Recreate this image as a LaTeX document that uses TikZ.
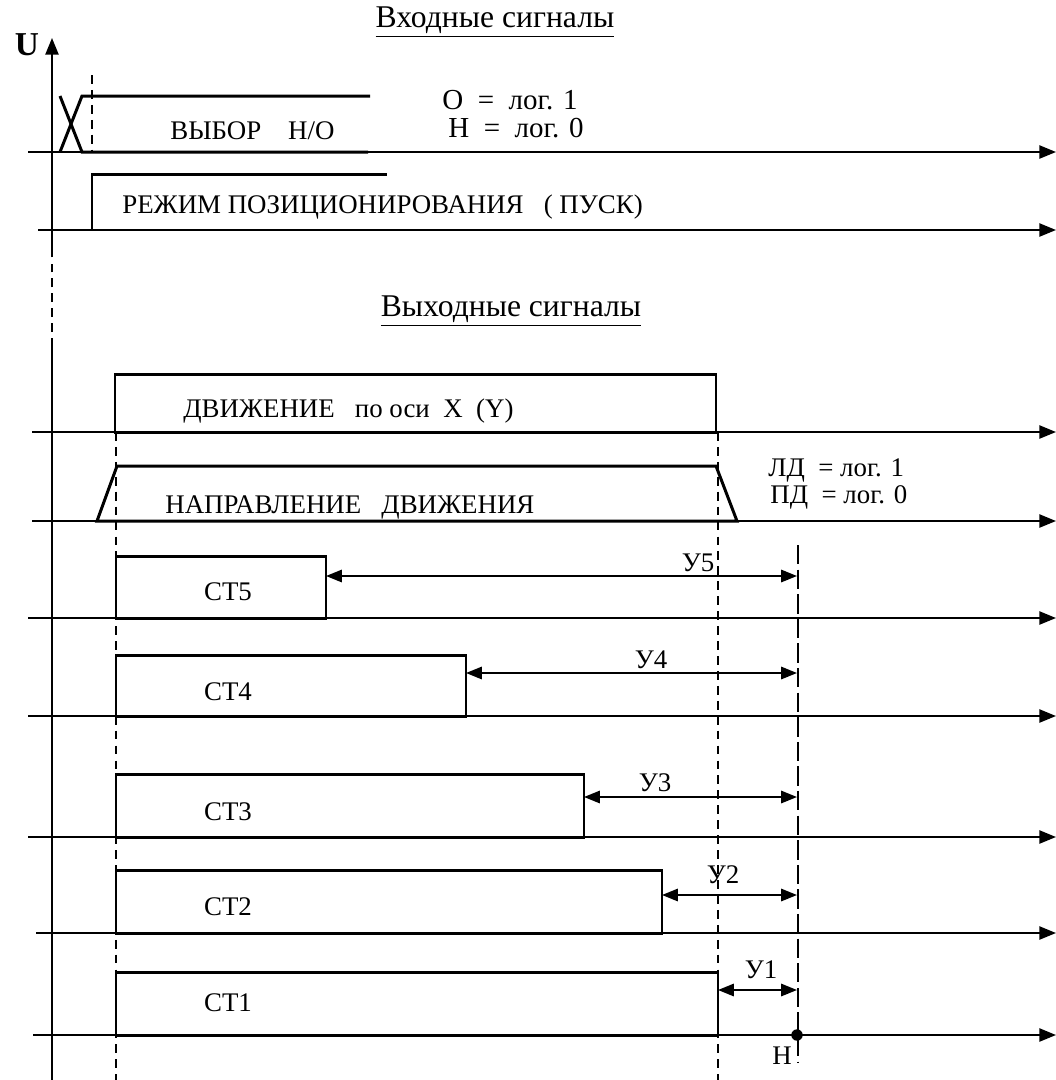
\documentclass[tikz,border=0pt]{standalone}
\usepackage{fontspec}
\setmainfont{Liberation Serif}
\usetikzlibrary{arrows.meta}

\begin{document}
\begin{tikzpicture}[x=0.02cm,y=-0.02cm,
  lbl/.style={font=\fontsize{15.3}{17}\selectfont,inner sep=0pt},
  big/.style={font=\fontsize{18}{20}\selectfont,inner sep=0pt},
  axis/.style={line width=1.1pt,-{Triangle[length=9.5pt,width=7.5pt]}},
  pulse/.style={line width=1.7pt,line join=miter},
  dim/.style={line width=1.1pt,{Triangle[length=9pt,width=7pt]}-{Triangle[length=9pt,width=7pt]}},
  guide/.style={line width=1.1pt,dash pattern=on 5pt off 3.5pt}]
\useasboundingbox (0,0) rectangle (1056,1080);

% ось U
\draw[line width=1.1pt] (52,1080) -- (52,347);
\draw[guide] (52,347) -- (52,255);
\draw[axis] (52,255) -- (52,38);
\node[font=\fontsize{19}{21}\selectfont\bfseries,inner sep=0pt] (u) at (27,45) {U};

% оси времени
\foreach \y/\x in {152/28,230/38,432/32,521/32,618/28,716/28,837/28,933/36,1035/33} {
  \draw[axis] (\x,\y) -- (1056,\y);
}

% входные сигналы
\node[big] (vhod) at (495,22) {\underline{Входные сигналы}};
\draw[pulse] (60,96) -- (82,152) -- (368,152);
\draw[pulse] (60,152) -- (82,96) -- (370,96);
\draw[guide] (92,75) -- (92,150);
\node[lbl,anchor=west] (vybor) at (170,131) {ВЫБОР\ \ \ \ Н/О};
\node[font=\fontsize{16.5}{18}\selectfont,inner sep=0pt,anchor=west] (lo) at (442,100) {О\ \ =\ \ лог. 1};
\node[font=\fontsize{16.5}{18}\selectfont,inner sep=0pt,anchor=west] (lh) at (448,128) {Н\ \ =\ \ лог. 0};
\draw[pulse] (92,230) -- (92,174) -- (387,174);
\node[lbl,anchor=west] (pusk) at (122,207) {РЕЖИМ ПОЗИЦИОНИРОВАНИЯ\ \ \ ( ПУСК)};

% выходные сигналы
\node[big] (vyhod) at (511,311) {\underline{Выходные сигналы}};
\draw[pulse] (115,432) rectangle (716,374);
\node[lbl,anchor=west] (dv) at (183,411) {ДВИЖЕНИЕ\ \ \ по оси\ \ X\ \ (Y)};
\draw[pulse] (97,521) -- (117,466) -- (716,466) -- (737,521) -- cycle;
\node[lbl,anchor=west] (napr) at (165,507) {НАПРАВЛЕНИЕ\ \ \ ДВИЖЕНИЯ};
\node[lbl,anchor=west] (ld) at (768,470) {ЛД\ \ = лог. 1};
\node[lbl,anchor=west] (pd) at (770,497) {ПД\ \ = лог. 0};

\draw[guide] (116,432) -- (116,1080);
\draw[guide] (718,432) -- (718,1080);
\draw[line width=1.1pt,dash pattern=on 11pt off 3pt] (798,545) -- (798,1062);

% счетчики СТ и участки У
\foreach \n/\yb/\yt/\xr/\ya/\yc/\lx/\ly in {5/618/556/326/576/592/698/563,4/716/655/466/673/692/651/660,3/837/774/584/797/812/655/783,2/933/870/662/895/907/723/875,1/1035/972/718/990/1003/761/970} {
  \draw[pulse] (116,\yb) rectangle (\xr,\yt);
  \node[lbl] (ct\n) at (228,\yc) {СТ\n};
  \coordinate (s\n) at (\xr,\ya);
  \coordinate (h\n) at (797,\ya);
  \draw[dim] (s\n) -- (h\n);
  \node[lbl] (y\n) at (\lx,\ly) {У\n};
}
\node[circle,fill,inner sep=0pt,minimum size=6.5pt] (hpt) at (797,1035) {};
\node[lbl] (hlab) at (782,1056) {Н};
\end{tikzpicture}
\end{document}
